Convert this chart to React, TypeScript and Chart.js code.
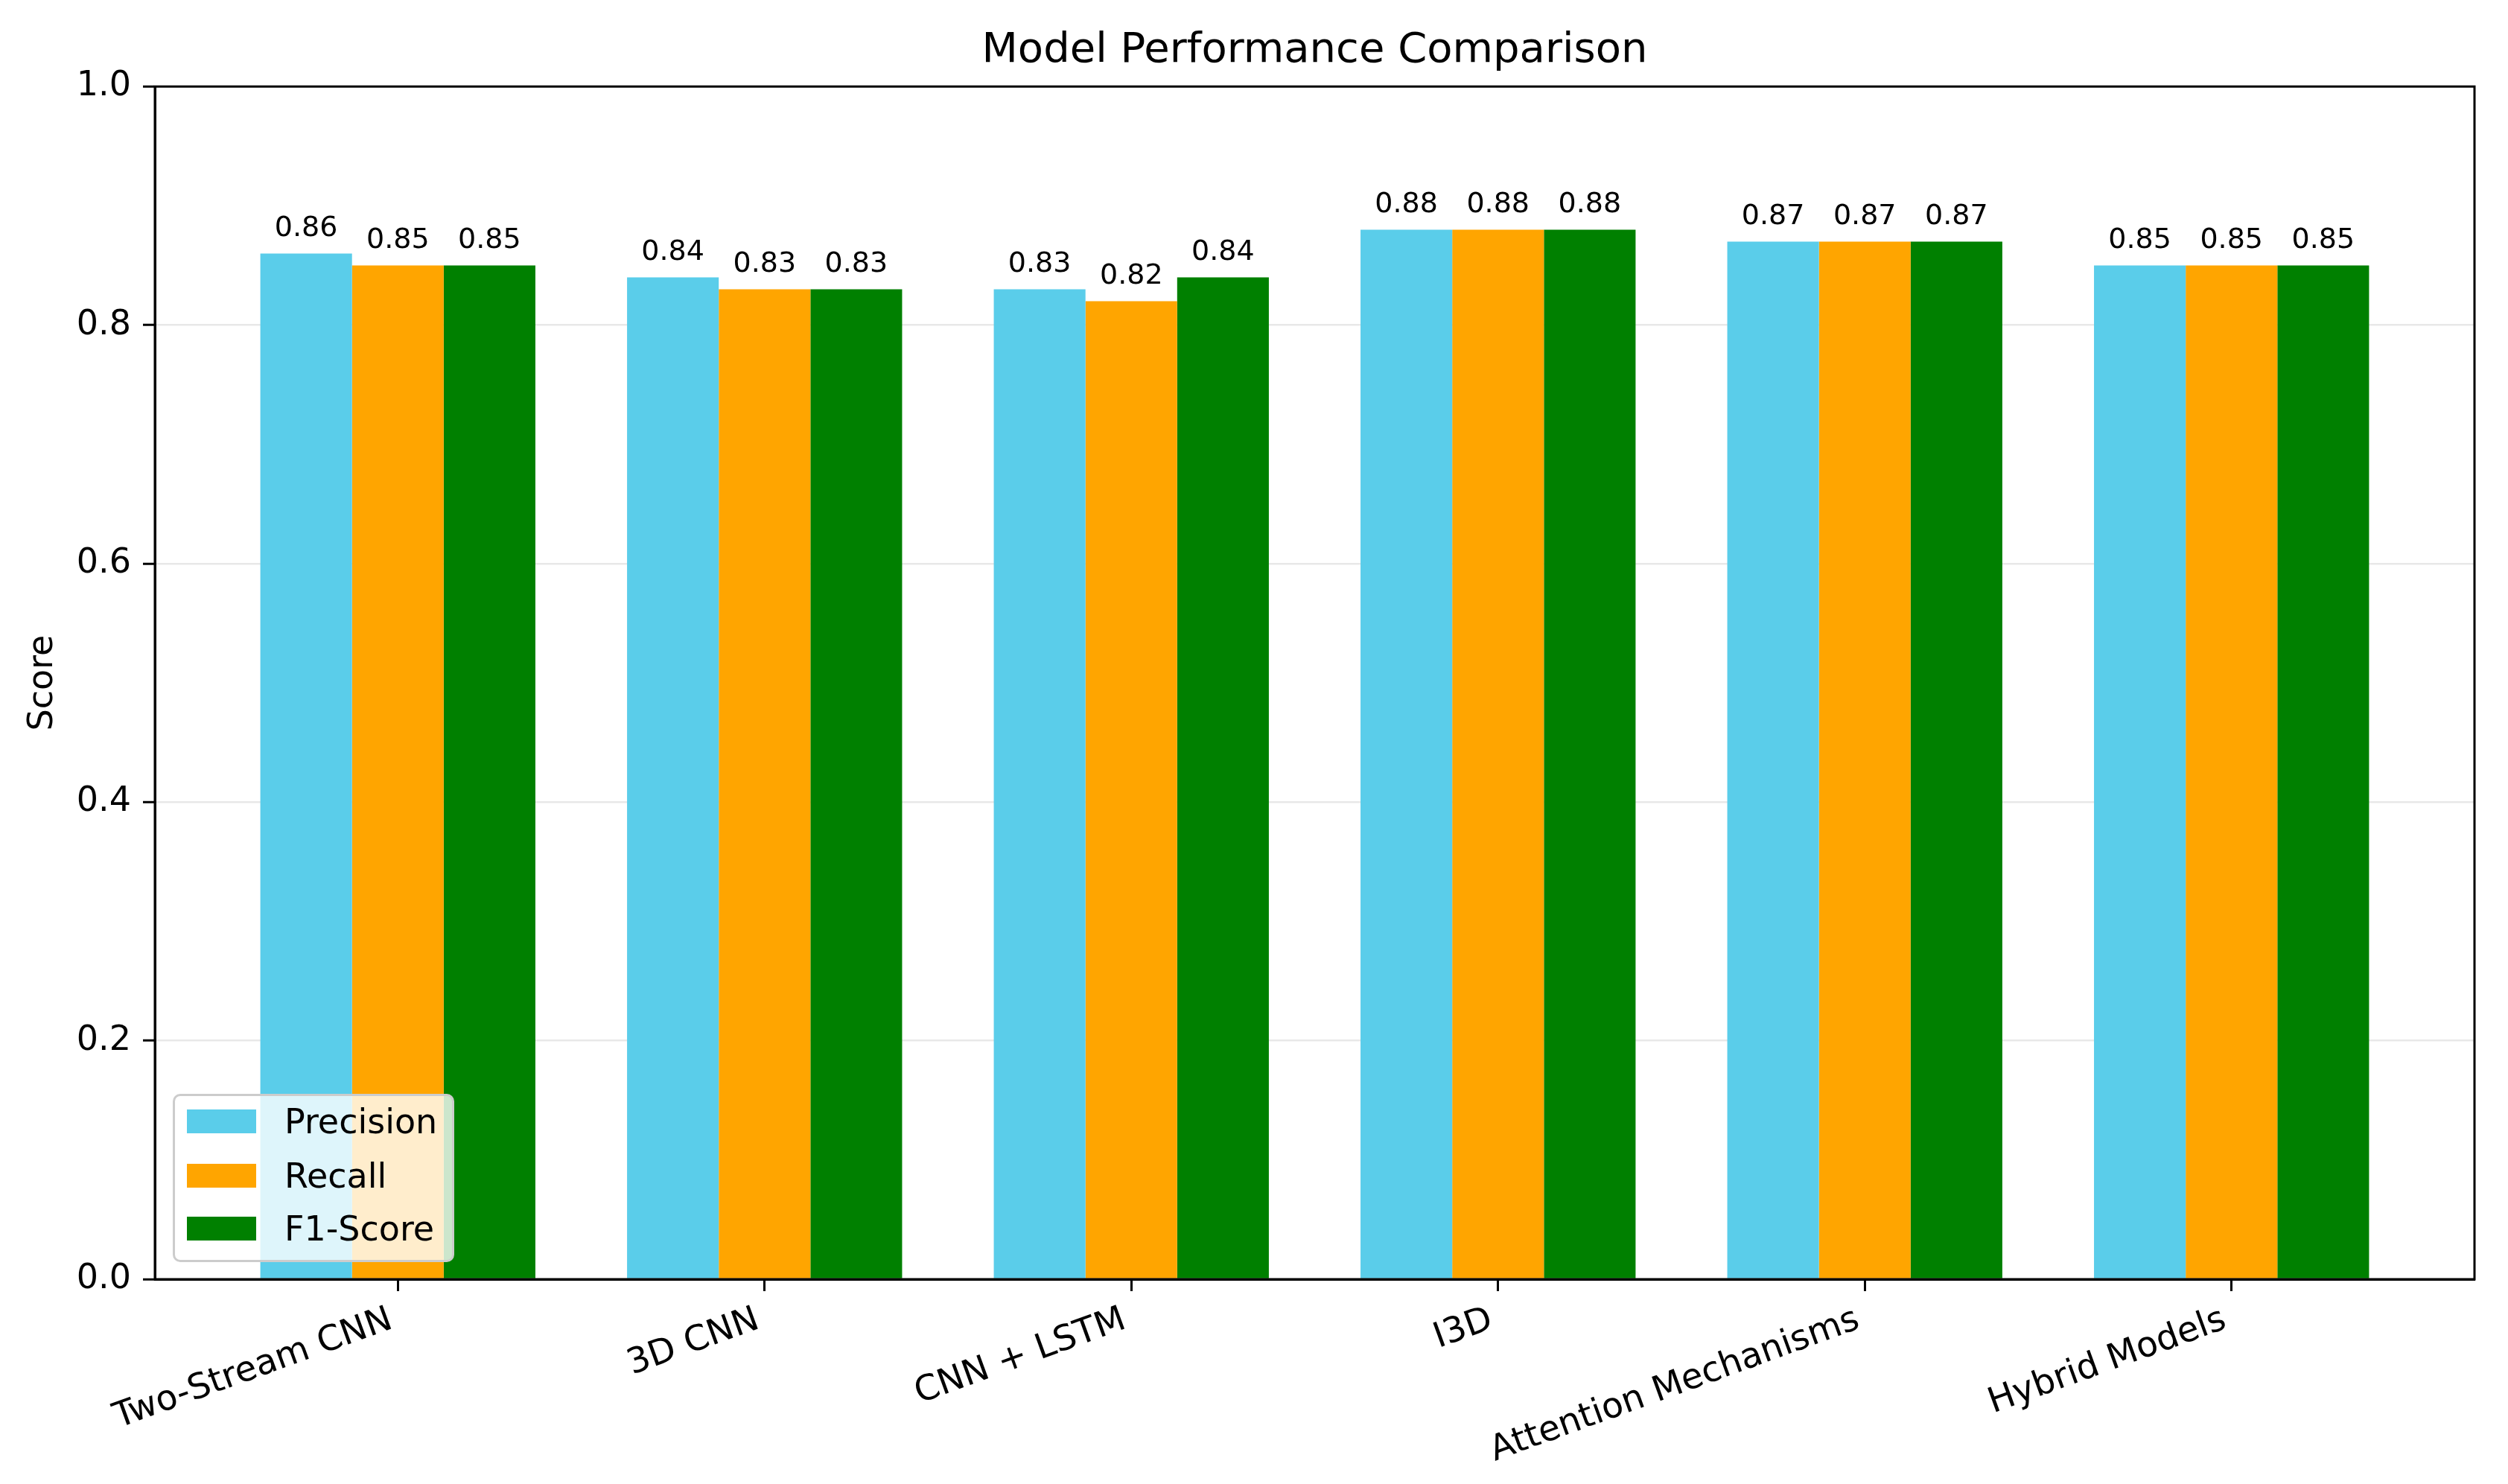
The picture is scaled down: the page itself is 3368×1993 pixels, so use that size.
import React, { useEffect, useRef } from 'react';
import { Chart, registerables } from 'chart.js';

Chart.register(...registerables);

const categories = ['Two-Stream CNN', '3D CNN', 'CNN + LSTM', 'I3D', 'Attention Mechanisms', 'Hybrid Models'];
const precision = [0.86, 0.84, 0.83, 0.88, 0.87, 0.85];
const recall = [0.85, 0.83, 0.82, 0.88, 0.87, 0.85];
const f1Score = [0.85, 0.83, 0.84, 0.88, 0.87, 0.85];
const seriesNames = ['Precision', 'Recall', 'F1-Score'];
const seriesColors = ['#5acdea', '#ffa500', '#008000'];
const seriesValues = [precision, recall, f1Score];
const titleText = 'Model Performance Comparison';
const yTitle = 'Score';

const W = 3368;
const H = 1993;
const FONT = "'DejaVu Sans', 'Liberation Sans', sans-serif";

const framePlugin = {
  id: 'frameBox',
  afterDraw(chart: any) {
    const { ctx, chartArea } = chart;
    ctx.save();
    ctx.strokeStyle = '#000';
    ctx.lineWidth = 3;
    ctx.strokeRect(chartArea.left, chartArea.top, chartArea.right - chartArea.left, chartArea.bottom - chartArea.top);
    ctx.restore();
  },
};

const valueLabelPlugin = {
  id: 'valueLabels',
  afterDatasetsDraw(chart: any) {
    const { ctx } = chart;
    ctx.save();
    ctx.fillStyle = '#000';
    ctx.font = `38px ${FONT}`;
    ctx.textAlign = 'center';
    ctx.textBaseline = 'bottom';
    chart.data.datasets.forEach((ds: any, di: number) => {
      const meta = chart.getDatasetMeta(di);
      meta.data.forEach((bar: any, i: number) => {
        const v = ds.data[i].y;
        ctx.fillText(v.toFixed(2), bar.x, bar.y - 14);
      });
    });
    ctx.restore();
  },
};

export default function App() {
  const canvasRef = useRef<HTMLCanvasElement | null>(null);

  useEffect(() => {
    if (!canvasRef.current) return;
    Chart.defaults.font.family = FONT;
    const chart = new Chart(canvasRef.current, {
      type: 'bar',
      data: {
        datasets: seriesNames.map((name, si) => ({
          label: name,
          data: categories.map((_, i) => ({ x: i, y: seriesValues[si][i] })),
          backgroundColor: seriesColors[si],
          borderWidth: 0,
          categoryPercentage: 0.75,
          barPercentage: 1.0,
        })),
      },
      options: {
        responsive: false,
        maintainAspectRatio: false,
        devicePixelRatio: 1,
        animation: false,
        layout: { padding: { left: 0, right: 45, top: 0, bottom: 0 } },
        plugins: {
          legend: { display: false },
          tooltip: { enabled: false },
          title: {
            display: true,
            fullSize: false,
            text: titleText,
            color: '#000',
            font: { size: 56, weight: 'normal', family: FONT },
            padding: { top: 35, bottom: 14 },
          },
        },
        scales: {
          x: {
            type: 'linear',
            min: -0.6625,
            max: 5.6625,
            offset: false,
            afterBuildTicks: (axis: any) => {
              axis.ticks = categories.map((_, i) => ({ value: i }));
            },
            afterFit: (scale: any) => {
              scale.height = 275;
            },
            grid: {
              display: true,
              drawOnChartArea: false,
              drawTicks: true,
              tickLength: 16,
              tickColor: '#000',
              tickWidth: 3,
              offset: false,
            },
            border: { display: true, color: '#000', width: 3 },
            ticks: {
              autoSkip: false,
              minRotation: 20,
              maxRotation: 20,
              padding: 11,
              labelOffset: -9,
              color: '#000',
              font: { size: 47, family: FONT },
              callback: (_v: any, index: number) => categories[index],
            },
          },
          y: {
            min: 0,
            max: 1,
            z: 1,
            afterFit: (scale: any) => {
              scale.width = 208;
            },
            grid: {
              color: 'rgba(0,0,0,0.09)',
              lineWidth: 2.5,
              tickColor: '#000',
              tickLength: 16,
              tickWidth: 3,
            },
            border: { display: true, color: '#000', width: 3 },
            ticks: {
              stepSize: 0.2,
              padding: 16,
              color: '#000',
              font: { size: 46, family: FONT },
              callback: (v: any) => Number(v).toFixed(1),
            },
            title: {
              display: true,
              text: yTitle,
              color: '#000',
              font: { size: 46, family: FONT },
              padding: { top: 30, bottom: 0 },
            },
          },
        },
      },
      plugins: [framePlugin, valueLabelPlugin],
    } as any);
    return () => chart.destroy();
  }, []);

  const legendTop = 1469;
  const legendLeft = 232;
  const rowCenters = [37, 110, 181];

  return (
    <div style={{ position: 'fixed', left: 0, top: 0, width: W, height: H, background: '#fff' }}>
      <canvas ref={canvasRef} width={W} height={H} style={{ display: 'block', width: W, height: H }} />
      <div
        style={{
          position: 'absolute',
          left: legendLeft,
          top: legendTop,
          width: 378,
          height: 226,
          boxSizing: 'border-box',
          background: 'rgba(255,255,255,0.8)',
          border: '3px solid #cccccc',
          borderRadius: 10,
          fontFamily: FONT,
          fontSize: 46,
          color: '#000',
        }}
      >
        {seriesNames.map((name, i) => (
          <div
            key={name}
            style={{
              position: 'absolute',
              left: 0,
              top: rowCenters[i] - 3 - 28,
              height: 56,
              display: 'flex',
              alignItems: 'center',
              whiteSpace: 'nowrap',
            }}
          >
            <span style={{ display: 'inline-block', marginLeft: 16, width: 93, height: 32, background: seriesColors[i] }} />
            <span style={{ marginLeft: 38, lineHeight: '56px' }}>{name}</span>
          </div>
        ))}
      </div>
    </div>
  );
}
